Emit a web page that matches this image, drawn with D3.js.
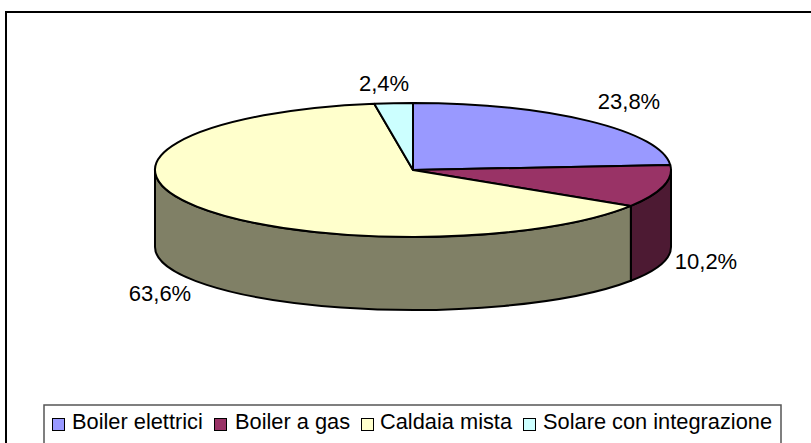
<!DOCTYPE html>
<meta charset="utf-8">
<script src="https://cdn.jsdelivr.net/npm/d3@7"></script>
<style>
body { margin: 0; background: #fff; }
svg { display: block; }
text { font-family: "Liberation Sans", Arial, sans-serif; fill: #000; }
</style>
<body>
<script>
var categories = ["Boiler elettrici", "Boiler a gas", "Caldaia mista", "Solare con integrazione"];
var values = [23.8, 10.2, 63.6, 2.4];
var labels = ["23,8%", "10,2%", "63,6%", "2,4%"];
var topColors = ["#9999ff", "#993366", "#ffffcc", "#ccffff"];
var sideColors = ["#4d4d80", "#4d1a33", "#808066", "#668080"];
var labelPos = [[629, 109], [706, 269], [160, 301], [384, 91]];

var width = 811, height = 443;
var cx = 413, cy = 170, rx = 258, ry = 67;
// the bottom rim is a little flatter than the top one
var cyBottom = 247, ryBottom = 63;

var svg = d3.select("body").append("svg")
    .attr("width", width)
    .attr("height", height);

// chart frame, cut off by the right and bottom of the picture
svg.append("path")
    .attr("d", "M6," + height + "V12H" + width)
    .attr("fill", "none")
    .attr("stroke", "#000")
    .attr("stroke-width", 2);

var arcs = d3.pie().sort(null)(values);

function px(a) { return cx + rx * Math.sin(a); }
function py(a) { return cy - ry * Math.cos(a); }
function pyBottom(a) { return cyBottom - ryBottom * Math.cos(a); }

// front wall of a slice between two angles
function sidePath(a0, a1) {
  return "M" + px(a0) + "," + py(a0) +
    "A" + rx + "," + ry + " 0 0,1 " + px(a1) + "," + py(a1) +
    "V" + pyBottom(a1) +
    "A" + rx + "," + ryBottom + " 0 0,0 " + px(a0) + "," + pyBottom(a0) + "Z";
}

function topPath(a0, a1) {
  var large = a1 - a0 > Math.PI ? 1 : 0;
  return "M" + cx + "," + cy + "L" + px(a0) + "," + py(a0) +
    "A" + rx + "," + ry + " 0 " + large + ",1 " + px(a1) + "," + py(a1) + "Z";
}

var front = arcs.map(function(d) {
  return {
    i: d.index,
    a0: Math.max(d.startAngle, Math.PI / 2),
    a1: Math.min(d.endAngle, Math.PI * 1.5)
  };
}).filter(function(d) { return d.a1 > d.a0; });

svg.selectAll("path.side")
    .data(front)
    .enter().append("path")
    .attr("class", "side")
    .attr("d", function(d) { return sidePath(d.a0, d.a1); })
    .attr("fill", function(d) { return sideColors[d.i]; })
    .attr("stroke", "#000")
    .attr("stroke-width", 2)
    .attr("stroke-linejoin", "round");

svg.selectAll("path.top")
    .data(arcs)
    .enter().append("path")
    .attr("class", "top")
    .attr("d", function(d) { return topPath(d.startAngle, d.endAngle); })
    .attr("fill", function(d) { return topColors[d.index]; })
    .attr("stroke", "#000")
    .attr("stroke-width", 2)
    .attr("stroke-linejoin", "round");

svg.selectAll("text.label")
    .data(labels)
    .enter().append("text")
    .attr("class", "label")
    .attr("x", function(d, i) { return labelPos[i][0]; })
    .attr("y", function(d, i) { return labelPos[i][1]; })
    .attr("text-anchor", "middle")
    .attr("font-size", 22)
    .text(function(d) { return d; });

// legend, its lower edge falls outside the picture
svg.append("rect")
    .attr("x", 44)
    .attr("y", 405)
    .attr("width", 737)
    .attr("height", 60)
    .attr("fill", "#fff")
    .attr("stroke", "#555")
    .attr("stroke-width", 1.5);

var legendItemX = [52, 214, 361, 523];
var legendTextX = [20, 21, 19, 20];
var legend = svg.selectAll("g.legend")
    .data(categories)
    .enter().append("g")
    .attr("class", "legend")
    .attr("transform", function(d, i) { return "translate(" + legendItemX[i] + ",424)"; });

legend.append("rect")
    .attr("x", 0.5)
    .attr("y", -5.5)
    .attr("width", 12)
    .attr("height", 12)
    .attr("fill", function(d, i) { return topColors[i]; })
    .attr("stroke", "#000");

legend.append("text")
    .attr("x", function(d, i) { return legendTextX[i]; })
    .attr("y", 5)
    .attr("font-size", 21.8)
    .text(function(d) { return d; });
</script>
</body>
